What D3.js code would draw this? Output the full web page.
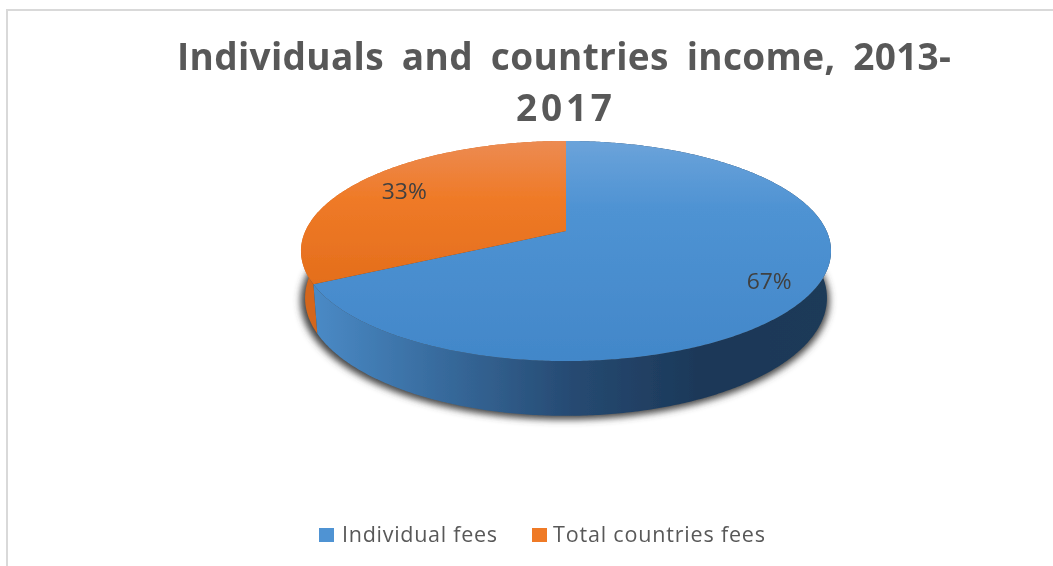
<!DOCTYPE html>
<html>
<head>
<meta charset="utf-8">
<script src="https://cdn.jsdelivr.net/npm/d3@7"></script>
<style>
  html, body { margin: 0; padding: 0; background: #fff; }
  svg { display: block; }
  text { font-family: "Open Sans", "Noto Sans", sans-serif; }
</style>
</head>
<body>
<script>
// chart values
var categories = ["Individual fees", "Total countries fees"];
var values = [67.4, 32.6];
var titleLines = ["Individuals and countries income, 2013-", "2017"];

var width = 1053, height = 566;

var svg = d3.select("body").append("svg")
    .attr("width", width)
    .attr("height", height);

var defs = svg.append("defs");

function gradient(id, x2, y2, stops) {
  var g = defs.append("linearGradient").attr("id", id)
      .attr("x1", 0).attr("y1", 0).attr("x2", x2).attr("y2", y2);
  stops.forEach(function(s) {
    g.append("stop").attr("offset", s[0]).attr("stop-color", s[1]);
  });
}

gradient("topBlue", 0, 1, [[0, "#6ba3da"], [0.3, "#4f93d3"], [1, "#4287c9"]]);
gradient("topOrange", 0, 1, [[0, "#ec8b52"], [0.4, "#ef7a27"], [1, "#e46e1c"]]);
gradient("sideBlue", 1, 0, [[0, "#4a8ac6"], [0.25, "#376a9c"], [0.5, "#264a72"], [0.75, "#1c3858"], [1, "#1b3a58"]]);

defs.append("filter").attr("id", "shadow")
    .attr("x", "-10%").attr("y", "-10%").attr("width", "120%").attr("height", "120%")
  .append("feGaussianBlur").attr("stdDeviation", 3.5);

defs.append("filter").attr("id", "soft")
    .attr("filterUnits", "userSpaceOnUse")
    .attr("x", 0).attr("y", 0).attr("width", width).attr("height", height)
  .append("feGaussianBlur").attr("stdDeviation", 0.6);

var chart = svg.append("g").attr("filter", "url(#soft)");

// frame, only top and left are in the picture
chart.append("path")
    .attr("d", d3.line()([[width, 10], [7, 10], [7, height]]))
    .attr("fill", "none")
    .attr("stroke", "#d9d9d9")
    .attr("stroke-width", 2);

// title
chart.selectAll("text.title")
    .data(titleLines)
  .enter().append("text")
    .attr("class", "title")
    .attr("x", 564)
    .attr("y", function(d, i) { return 70 + i * 51; })
    .attr("text-anchor", "middle")
    .attr("font-size", 37)
    .attr("font-weight", 700)
    .attr("fill", "#595959")
    .attr("word-spacing", 8)
    .attr("textLength", function(d, i) { return i == 0 ? 774 : 96; })
    .attr("lengthAdjust", "spacing")
    .text(function(d) { return d; });

// perspective projection of the pie disc
var k = 0.1818;
var topFace = {cx: 566, cy: 231, rx: 260.6, ry: 106.4};
var bottomFace = {cx: 566, cy: 276.5, rx: 256.6, ry: 114};

function project(face, angle, f) {
  var u = Math.sin(angle) * f, v = Math.cos(angle) * f;
  var d = 1 + k * v;
  return [face.cx + face.rx * u / d, face.cy - face.ry * v / d];
}

function arcPoints(face, a0, a1) {
  var n = Math.ceil((a1 - a0) / 0.01);
  return d3.range(n + 1).map(function(i) {
    return project(face, a0 + (a1 - a0) * i / n, 1);
  });
}

var pie = d3.pie().sort(null);
var slices = pie(values);
var line = d3.line();
var sideFills = ["url(#sideBlue)", "#d4661a"];
var topFills = ["url(#topBlue)", "url(#topOrange)"];

// soft shadow below the disc
chart.append("path")
    .attr("d", line(arcPoints({cx: 565, cy: 279, rx: 260, ry: 115}, 0, 2 * Math.PI)) + "Z")
    .attr("fill", "#444")
    .attr("filter", "url(#shadow)");

// side walls, orange first
slices.slice().reverse().forEach(function(s) {
  var upper = arcPoints(topFace, s.startAngle, s.endAngle);
  var lower = arcPoints(bottomFace, s.startAngle, s.endAngle).reverse();
  chart.append("path")
      .attr("d", line(upper.concat(lower)) + "Z")
      .attr("fill", sideFills[s.index]);
});

// top faces
chart.selectAll("path.slice")
    .data(slices)
  .enter().append("path")
    .attr("class", "slice")
    .attr("d", function(s) {
      return line([[topFace.cx, topFace.cy]].concat(arcPoints(topFace, s.startAngle, s.endAngle))) + "Z";
    })
    .attr("fill", function(s) { return topFills[s.index]; });

// percent labels
var labelRadius = [0.84, 0.78];
chart.selectAll("text.pct")
    .data(slices)
  .enter().append("text")
    .attr("class", "pct")
    .attr("transform", function(s) {
      var p = project(topFace, (s.startAngle + s.endAngle) / 2, labelRadius[s.index]);
      return "translate(" + p[0] + "," + (p[1] + 8) + ")";
    })
    .attr("text-anchor", "middle")
    .attr("font-size", 21)
    .attr("fill", "#404040")
    .attr("textLength", 45)
    .attr("lengthAdjust", "spacingAndGlyphs")
    .text(function(s) { return Math.round(s.value) + "%"; });

// legend
var legendColors = ["#4f93d3", "#ef7a27"];
var legendX = [319, 532];
var legendText = [155, 212];

var legend = chart.selectAll("g.legend")
    .data(categories)
  .enter().append("g")
    .attr("class", "legend")
    .attr("transform", function(d, i) { return "translate(" + legendX[i] + ",528)"; });

legend.append("rect")
    .attr("width", 15)
    .attr("height", 14)
    .attr("fill", function(d, i) { return legendColors[i]; });

legend.append("text")
    .attr("x", function(d, i) { return i == 0 ? 23 : 21; })
    .attr("y", 14)
    .attr("font-size", 21.5)
    .attr("fill", "#595959")
    .attr("textLength", function(d, i) { return legendText[i]; })
    .attr("lengthAdjust", "spacing")
    .text(function(d) { return d; });
</script>
</body>
</html>
